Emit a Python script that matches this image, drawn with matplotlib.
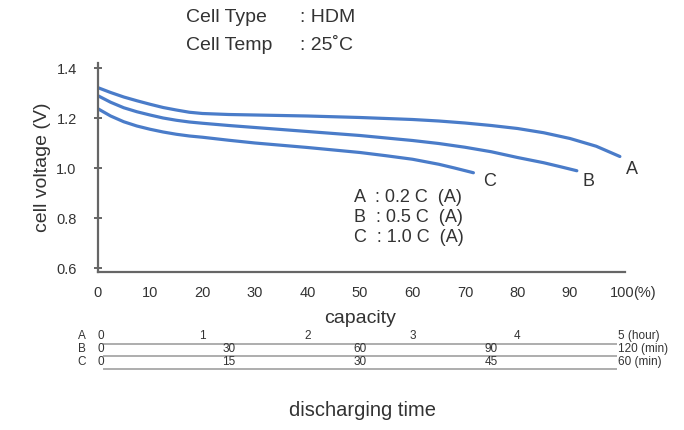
import matplotlib
matplotlib.use('Agg')
import matplotlib.pyplot as plt

plt.rcParams['font.family'] = ['Liberation Sans', 'DejaVu Sans']

# discharge curves (capacity %, cell voltage V)
cap_a = [0, 2.5, 5, 7.5, 10, 12.5, 15, 17.5, 20, 25, 30, 40, 50, 60, 65, 70, 75, 80, 85, 90, 95, 99.5]
volt_a = [1.322, 1.302, 1.284, 1.269, 1.255, 1.242, 1.232, 1.223, 1.218, 1.214, 1.212, 1.208,
          1.202, 1.194, 1.188, 1.180, 1.170, 1.158, 1.141, 1.118, 1.087, 1.046]
cap_b = [0, 2.5, 5, 7.5, 10, 12.5, 15, 17.5, 20, 25, 30, 40, 50, 60, 65, 70, 75, 80, 85, 88, 91.3]
volt_b = [1.290, 1.263, 1.241, 1.225, 1.212, 1.200, 1.191, 1.184, 1.179, 1.170, 1.162, 1.146,
          1.130, 1.110, 1.098, 1.083, 1.065, 1.042, 1.021, 1.006, 0.989]
cap_c = [0, 2.5, 5, 7.5, 10, 12.5, 15, 17.5, 20, 25, 30, 40, 50, 55, 60, 65, 68, 71.6]
volt_c = [1.238, 1.208, 1.185, 1.168, 1.155, 1.144, 1.135, 1.128, 1.123, 1.111, 1.100, 1.082,
          1.062, 1.049, 1.035, 1.015, 1.000, 0.981]

xticks = [0, 10, 20, 30, 40, 50, 60, 70, 80, 90, 100]
yticks = [0.6, 0.8, 1.0, 1.2, 1.4]
rates = ['A  : 0.2 C  (A)', 'B  : 0.5 C  (A)', 'C  : 1.0 C  (A)']

# discharging time scales
time_rows = ['A', 'B', 'C']
time_ticks = [[0, 1, 2, 3, 4, 5], [0, 30, 60, 90, 120], [0, 15, 30, 45, 60]]
time_units = ['(hour)', '(min)', '(min)']

line_color = '#4a7cc9'
text_color = '#333333'
axis_color = '#666666'

W, H = 684, 430
fig = plt.figure(figsize=(W / 100, H / 100), dpi=100)

left = 97.5 / W
width = 525 / W
ax = fig.add_axes([left, (H - 272) / H, width, (272 - 63) / H])
ax.set_xlim(0, 100)
ax.set_ylim(0.584, 1.42)

for c, v in [(cap_a, volt_a), (cap_b, volt_b), (cap_c, volt_c)]:
    ax.plot(c, v, color=line_color, lw=2.3, solid_capstyle='round', solid_joinstyle='round')

for s in ['top', 'right']:
    ax.spines[s].set_visible(False)
for s in ['left', 'bottom']:
    ax.spines[s].set_color(axis_color)
    ax.spines[s].set_linewidth(1.6)
ax.spines['bottom'].set_bounds(0, 100.5)

ax.set_xticks(xticks)
ax.set_xticklabels([str(t) for t in xticks])
ax.set_yticks(yticks)
ax.set_yticklabels(['%.1f' % t for t in yticks])
ax.tick_params(axis='x', length=0, pad=10, labelsize=10.5, labelcolor=text_color)
ax.tick_params(axis='y', direction='inout', length=6, width=1.4, color=axis_color,
               pad=12, labelsize=10.5, labelcolor=text_color)
ax.annotate('(%)', xy=(100, 0), xycoords=ax.get_xaxis_transform(),
            xytext=(7.6, -10), textcoords='offset points', ha='left', va='top',
            fontsize=10.5, color=text_color)

ax.set_xlabel('capacity', fontsize=14, color=text_color, labelpad=7)
ax.set_ylabel('cell voltage (V)', fontsize=14, color=text_color, labelpad=4)

# curve end labels
ax.text(101.8, 0.992, 'A', fontsize=13, color=text_color, ha='center', va='center')
ax.text(93.6, 0.944, 'B', fontsize=13, color=text_color, ha='center', va='center')
ax.text(74.6, 0.944, 'C', fontsize=13, color=text_color, ha='center', va='center')

for i, r in enumerate(rates):
    ax.text(48.8, 0.88 - 0.08 * i, r, fontsize=13, color=text_color, ha='left', va='center')

# header
fig.text(186 / W, 1 - 18 / H, 'Cell Type', fontsize=14, color=text_color, va='center')
fig.text(300 / W, 1 - 18 / H, ': HDM', fontsize=14, color=text_color, va='center')
fig.text(186 / W, 1 - 45 / H, 'Cell Temp', fontsize=14, color=text_color, va='center')
fig.text(300 / W, 1 - 45 / H, ': 25˚C', fontsize=14, color=text_color, va='center')

# time scale strip
ax2 = fig.add_axes([left, (H - 375) / H, width, 45 / H])
ax2.set_xlim(0, 100)
ax2.set_ylim(3.0, -0.5)
ax2.axis('off')
for r, (name, ticks, unit) in enumerate(zip(time_rows, time_ticks, time_units)):
    ax2.hlines(r + 0.55, 1.0, 99.0, color='#a0a0a0', lw=1.2)
    ax2.text(-3.0, r, name, fontsize=8.5, color=text_color, ha='center', va='center',
             clip_on=False)
    top = ticks[-1]
    for t in ticks:
        pos = t / top * 100
        if t == 0:
            ax2.text(pos, r, '0', fontsize=8.5, color=text_color, ha='left', va='center',
                     clip_on=False)
        elif t == top:
            ax2.text(99.1, r, '%d %s' % (t, unit), fontsize=8.5, color=text_color,
                     ha='left', va='center', clip_on=False)
        else:
            ax2.text(pos, r, str(t), fontsize=8.5, color=text_color, ha='center',
                     va='center', clip_on=False)

fig.text(362 / W, 1 - 410 / H, 'discharging time', fontsize=14.5, color=text_color,
         ha='center', va='center')

fig.savefig('out.png', dpi=100)
